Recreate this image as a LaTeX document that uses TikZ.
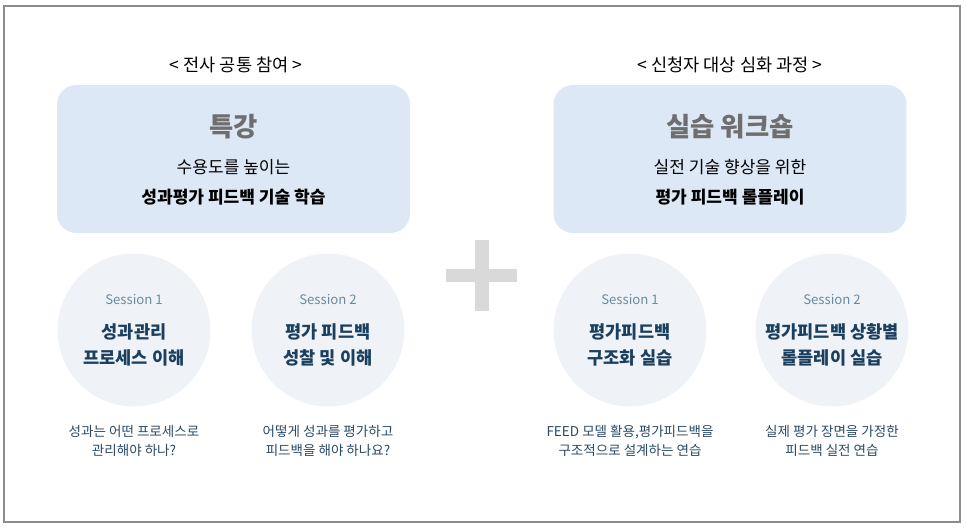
\documentclass[tikz,border=0pt]{standalone}
\usepackage{fontspec}
\setmainfont{Noto Sans CJK KR}
\usetikzlibrary{positioning}
\definecolor{boxblue}{HTML}{DCE8F5}
\definecolor{circgray}{HTML}{EFF3F7}
\definecolor{headgray}{HTML}{6E6E6E}
\definecolor{navy}{HTML}{1B3F5E}
\definecolor{sessblue}{HTML}{6A8AA3}
\definecolor{descblue}{HTML}{2A4A66}
\definecolor{plusgray}{HTML}{D9D9D9}

\begin{document}
\begin{tikzpicture}[x=0.02cm,y=-0.02cm,
  grp/.style={font=\fontsize{10}{12}\selectfont,text=black},
  card/.style={rectangle,fill=boxblue,rounded corners=11pt,minimum width=7.06cm,minimum height=2.96cm},
  head/.style={font=\bfseries\fontsize{15}{17}\selectfont,text=headgray},
  sub/.style={align=center,font=\fontsize{9.7}{17}\selectfont},
  sess/.style={circle,fill=circgray,minimum size=3.06cm},
  snum/.style={font=\fontsize{7.5}{10}\selectfont,text=sessblue},
  stit/.style={align=center,font=\bfseries\fontsize{10}{14.5}\selectfont,text=navy},
  desc/.style={align=center,font=\fontsize{7.7}{11}\selectfont,text=descblue}
]
  \useasboundingbox (0,0) rectangle (966,530);
  \draw[gray!90,line width=0.8pt] (4,6) rectangle (960,522);

  % groups
  \node[grp](g1) at (236,65){< 전사 공통 참여 >};
  \node[grp](g2) at (730,65){< 신청자 대상 심화 과정 >};

  % cards
  \node[card](c1) at (233.5,159){};
  \node[head](h1) at (233.5,127){특강};
  \node[sub] (t1) at (233.5,182){수용도를 높이는\\\textbf{성과평가 피드백 기술 학습}};
  \node[card](c2) at (730,159){};
  \node[head](h2) at (730,127){실습 워크숍};
  \node[sub] (t2) at (730,182){실전 기술 향상을 위한\\\textbf{평가 피드백 롤플레이}};

  % plus
  \fill[plusgray] (475,240) rectangle (489,311);
  \fill[plusgray] (446,269) rectangle (517,282);

  % sessions
  \node[sess](s1) at (134,330){};
  \node[snum](n1) at (134,299){Session 1};
  \node[stit](m1) at (134,345){성과관리\\프로세스 이해};
  \node[desc](d1) at (134,441){성과는 어떤 프로세스로\\관리해야 하나?};

  \node[sess](s2) at (328,330){};
  \node[snum](n2) at (328,299){Session 2};
  \node[stit](m2) at (328,345){평가 피드백\\성찰 및 이해};
  \node[desc](d2) at (328,441){어떻게 성과를 평가하고\\피드백을 해야 하나요?};

  \node[sess](s3) at (630,330){};
  \node[snum](n3) at (630,299){Session 1};
  \node[stit](m3) at (630,345){평가피드백\\구조화 실습};
  \node[desc](d3) at (630,441){FEED 모델 활용,평가피드백을\\구조적으로 설계하는 연습};

  \node[sess](s4) at (832,330){};
  \node[snum](n4) at (832,299){Session 2};
  \node[stit](m4) at (832,345){평가피드백 상황별\\롤플레이 실습};
  \node[desc](d4) at (832,441){실제 평가 장면을 가정한\\피드백 실전 연습};
\end{tikzpicture}
\end{document}
